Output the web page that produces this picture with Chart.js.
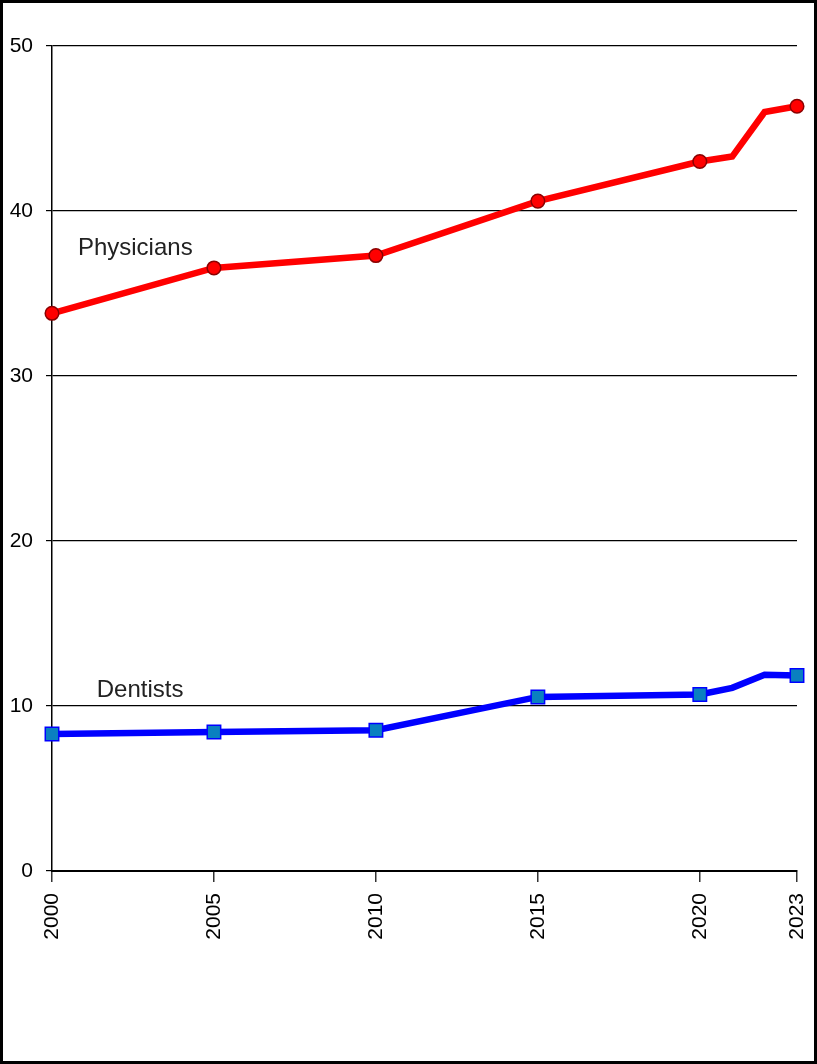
<!DOCTYPE html>
<html>
<head>
<meta charset="utf-8">
<script src="https://cdn.jsdelivr.net/npm/chart.js@4"></script>
<style>
  body { margin: 0; background: #fff; }
  #wrap { position: relative; width: 817px; height: 1064px; }
  #frame { position: absolute; left: 0; top: 0; width: 817px; height: 1064px; box-sizing: border-box;
           border: 3px solid #000; pointer-events: none; }
</style>
</head>
<body>
<div id="wrap">
  <canvas id="chart" width="817" height="1064"></canvas>
  <div id="frame"></div>
</div>
<script>
const years      = [2000, 2005, 2010, 2015, 2020, 2021, 2022, 2023]
const physicians = [33.8, 36.55, 37.3, 40.6, 43.0, 43.3, 46.0, 46.35]
const dentists   = [8.3, 8.42, 8.53, 10.55, 10.7, 11.1, 11.9, 11.85]
const marked     = [true, true, true, true, true, false, false, true]
const tickYears  = [2000, 2005, 2010, 2015, 2020, 2023]
const yTicks     = [0, 10, 20, 30, 40, 50]
const seriesLabels = [
  { text: 'Physicians', x: 2000.8, y: 37.33 },
  { text: 'Dentists',   x: 2001.38, y: 10.55 }
]

const pts = arr => years.map((y, i) => ({ x: y, y: arr[i] }))

// write the series names next to the lines
const labelPlugin = {
  id: 'seriesLabels',
  afterDatasetsDraw(chart) {
    const ctx = chart.ctx
    ctx.save()
    ctx.font = '24px "Liberation Sans", Arial, sans-serif'
    ctx.fillStyle = '#222'
    ctx.textBaseline = 'alphabetic'
    ctx.textAlign = 'left'
    for (let l of seriesLabels) {
      ctx.fillText(l.text, chart.scales.x.getPixelForValue(l.x), chart.scales.y.getPixelForValue(l.y))
    }
    ctx.restore()
  }
}

const data = {
  datasets: [
    {
      label: 'Physicians',
      data: pts(physicians),
      borderColor: '#ff0000',
      borderWidth: 6.5,
      pointStyle: 'circle',
      pointRadius: marked.map(m => m ? 6.8 : 0),
      pointBackgroundColor: '#ff0000',
      pointBorderColor: '#8b0000',
      pointBorderWidth: 1.5,
      clip: false,
      tension: 0
    },
    {
      label: 'Dentists',
      data: pts(dentists),
      borderColor: '#0000ff',
      borderWidth: 6.5,
      pointStyle: 'rect',
      pointRadius: marked.map(m => m ? 9.5 : 0),
      pointBackgroundColor: '#0a80c0',
      pointBorderColor: '#0000ff',
      pointBorderWidth: 1.5,
      clip: false,
      tension: 0
    }
  ]
}

const options = {
  responsive: false,
  animation: false,
  layout: { padding: { top: 46, right: 20, left: 0, bottom: 0 } },
  plugins: { legend: { display: false }, tooltip: { enabled: false } },
  scales: {
    x: {
      type: 'linear',
      min: 2000,
      max: 2023,
      afterBuildTicks: s => { s.ticks = tickYears.map(v => ({ value: v })) },
      afterFit: s => { s.height = 1064 - 871; s.paddingLeft = 0; s.paddingRight = 0 },
      grid: { drawOnChartArea: false, drawTicks: true, tickLength: 11, color: '#333', lineWidth: 1.5 },
      border: { color: '#000', width: 2 },
      ticks: {
        minRotation: 90, maxRotation: 90, autoSkip: false, padding: 11,
        color: '#000',
        font: { family: '"Liberation Sans", Arial, sans-serif', size: 21 },
        callback: v => String(v)
      }
    },
    y: {
      min: 0,
      max: 50,
      afterBuildTicks: s => { s.ticks = yTicks.map(v => ({ value: v })) },
      afterFit: s => { s.width = 52 },
      grid: { color: '#000', lineWidth: 1.2, tickLength: 6 },
      border: { color: '#000', width: 1.5 },
      ticks: {
        padding: 13,
        color: '#000',
        font: { family: '"Liberation Sans", Arial, sans-serif', size: 21 }
      }
    }
  }
}

new Chart(document.getElementById('chart'), { type: 'line', data, options, plugins: [labelPlugin] })
</script>
</body>
</html>
